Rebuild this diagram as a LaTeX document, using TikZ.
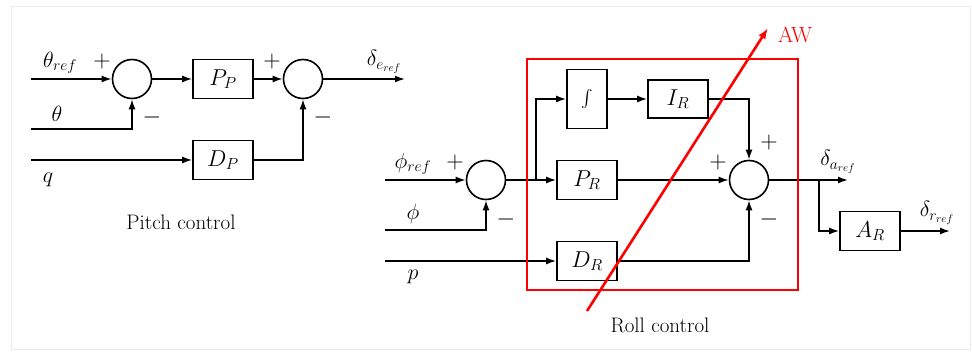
\RequirePackage{fix-cm}
\documentclass[tikz,border=0pt]{standalone}
\usepackage{exscale}
\usetikzlibrary{arrows.meta,calc}
\begin{document}
\begin{tikzpicture}[x=1pt,y=-1pt,
  every node/.style={font=\fontsize{21}{25}\selectfont},
  sumnode/.style={draw,circle,line width=1.6pt,minimum size=39pt,inner sep=0pt},
  blk/.style={draw,rectangle,line width=1.6pt,minimum width=60pt,minimum height=39pt,inner sep=0pt,font=\fontsize{23}{27}\selectfont},
  sig/.style={line width=1.6pt,-{Latex[length=10pt,width=7pt]}},
  sgn/.style={font=\fontsize{24}{26}\selectfont,inner sep=0pt},
  lbl/.style={inner sep=0pt,font=\fontsize{22}{26}\selectfont}
]
\useasboundingbox (0,0) rectangle (972,352);
\draw[gray!15,line width=1pt] (11,7) rectangle (970,350);

% ---------- Pitch control ----------
\coordinate (thin) at (31,79);
\coordinate (thmeas) at (31,129);
\coordinate (qin) at (31,160);
\coordinate (eout) at (405,79);
\node[sumnode] (s1) at (132,79) {};
\node[blk] (PP) at (223,79) {$P_P$};
\node[sumnode] (s2) at (303,79) {};
\node[blk] (DP) at (223,160) {$D_P$};

\draw[sig] (thin) -- (s1.west);
\draw[sig] (thmeas) -| (s1.south);
\draw[sig] (s1.east) -- (PP.west);
\draw[sig] (PP.east) -- (s2.west);
\draw[sig] (qin) -- (DP.west);
\draw[sig] (DP.east) -| (s2.south);
\draw[sig] (s2.east) -- (eout);

\node[lbl] (lthr) at (60,63) {$\theta_{ref}$};
\node[lbl] (lth) at (57,114) {$\theta$};
\node[lbl] (lq) at (48,180) {$q$};
\node[sgn] (p1) at (102,62) {$+$};
\node[sgn] (m1) at (152,118) {$-$};
\node[sgn] (p2) at (272,62) {$+$};
\node[sgn] (m2) at (323,118) {$-$};
\node[lbl] (ler) at (384,62) {$\delta_{e_{ref}}$};
\node (pc) at (181,222) {Pitch control};

% ---------- Roll control ----------
\coordinate (phrin) at (385,180);
\coordinate (phin) at (385,230);
\coordinate (pin) at (385,261);
\coordinate (br1) at (536,180);
\coordinate (aout) at (848,180);
\coordinate (br2) at (819,180);
\coordinate (rout) at (950,231);
\node[sumnode] (s3) at (486,180) {};
\node[blk,minimum width=40pt,minimum height=59pt,font=\fontsize{17}{20}\selectfont] (int) at (587,99) {$\int$};
\node[blk,minimum height=38pt] (IR) at (678,99) {$I_R$};
\node[blk] (PR) at (587,180) {$P_R$};
\node[blk] (DR) at (587,261) {$D_R$};
\node[sumnode] (s4) at (749,180) {};
\node[blk] (AR) at (870,231) {$A_R$};

\draw[sig] (phrin) -- (s3.west);
\draw[sig] (phin) -| (s3.south);
\draw[sig] (s3.east) -- (PR.west);
\draw[sig] (br1) |- (int.west);
\draw[sig] (int.east) -- (IR.west);
\draw[sig] (IR.east) -| (s4.north);
\draw[sig] (PR.east) -- (s4.west);
\draw[sig] (pin) -- (DR.west);
\draw[sig] (DR.east) -| (s4.south);
\draw[sig] (s4.east) -- (aout);
\draw[sig] (br2) |- (AR.west);
\draw[sig] (AR.east) -- (rout);

\node[lbl] (lphr) at (413,164) {$\phi_{ref}$};
\node[lbl] (lph) at (413,214) {$\phi$};
\node[lbl] (lp) at (413,277) {$p$};
\node[sgn] (p3) at (455,163) {$+$};
\node[sgn] (m3) at (506,220) {$-$};
\node[sgn] (p4) at (718,163) {$+$};
\node[sgn] (p5) at (769,143) {$+$};
\node[sgn] (m4) at (769,220) {$-$};
\node[lbl] (lar) at (838,162) {$\delta_{a_{ref}}$};
\node[lbl] (lrr) at (937,213) {$\delta_{r_{ref}}$};
\node (rc) at (660,325) {Roll control};

% anti-windup
\draw[red,line width=1.2pt] (527,59) rectangle (798,290);
\coordinate (awa) at (587,311);
\coordinate (awb) at (768,28);
\draw[red,line width=2.6pt,-{Latex[length=11pt,width=8pt]}] (awa) -- (awb);
\node[red,inner sep=0pt,font=\fontsize{22}{25}\selectfont] (aw) at (795,35) {AW};
\end{tikzpicture}
\end{document}
